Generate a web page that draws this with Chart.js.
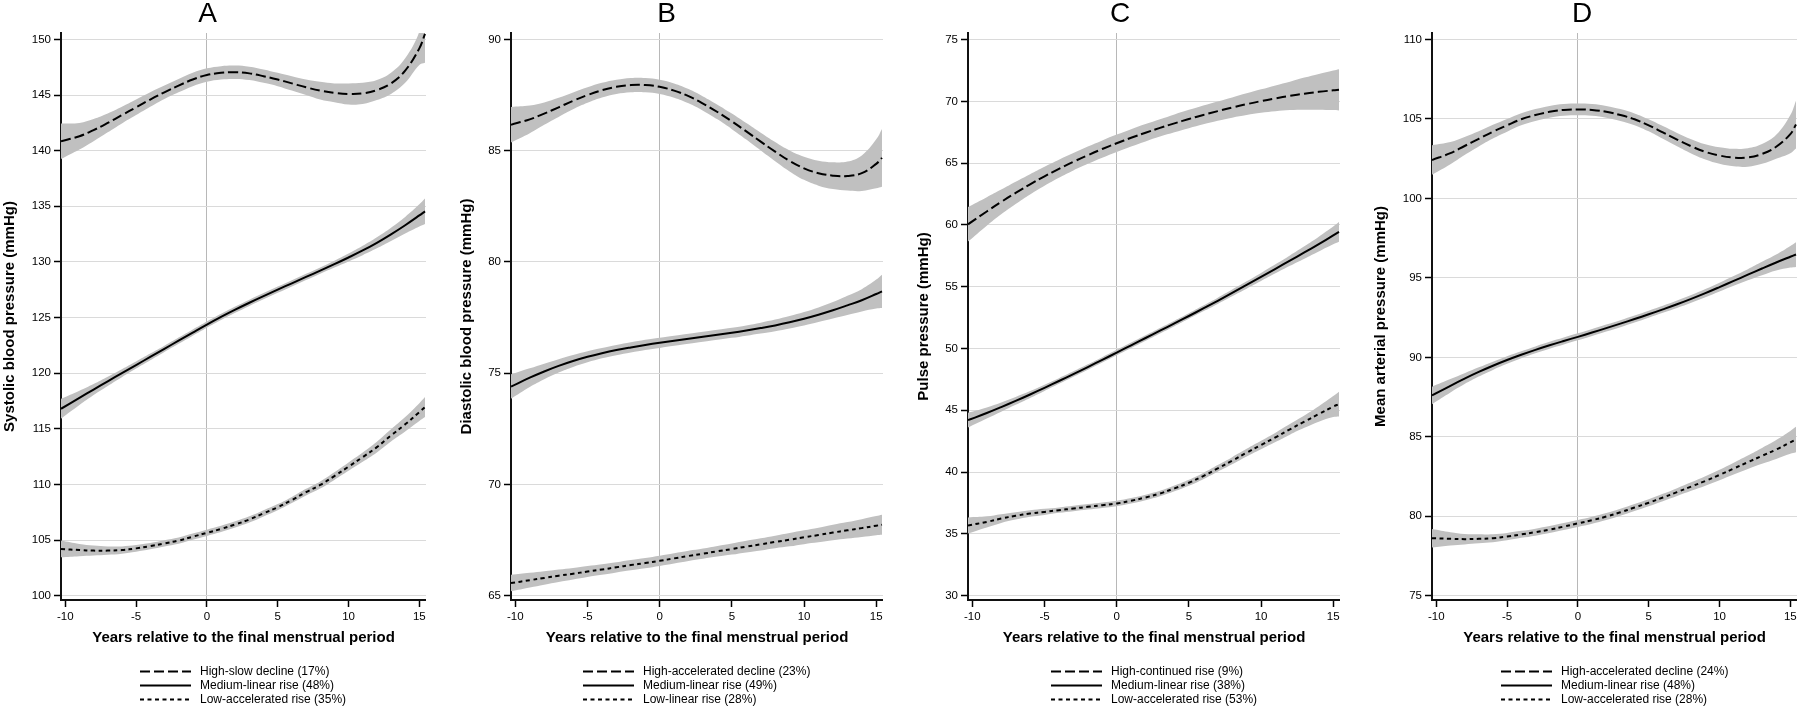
<!DOCTYPE html>
<html>
<head>
<meta charset="utf-8">
<script src="https://cdn.jsdelivr.net/npm/chart.js@4.4.1/dist/chart.umd.min.js"></script>
<style>
html, body { margin: 0; padding: 0; background: #fff; }
#wrap { position: relative; width: 1800px; height: 708px; overflow: hidden; background: #fff; }
#wrap canvas { position: absolute; top: 0; }
</style>
</head>
<body>
<div id="wrap">
  <canvas id="cA"></canvas>
  <canvas id="cB"></canvas>
  <canvas id="cC"></canvas>
  <canvas id="cD"></canvas>
</div>
<script>
// ---------- shared data ----------
const years = [-10.3,-9,-8,-7,-6,-5,-4,-3,-2,-1,0,1,2,3,4,5,6,7,8,9,10,11,12,13,14,15,15.4];
const xTicks = [-10,-5,0,5,10,15];
const xTitle = 'Years relative to the final menstrual period';

// ---------- Panel A: systolic ----------
const sbpTicks = [100,105,110,115,120,125,130,135,140,145,150];
const sbpLabels = ['High-slow decline (17%)','Medium-linear rise (48%)','Low-accelerated rise (35%)'];
const sbpHigh   = [140.85,141.3,141.85,142.5,143.2,143.9,144.6,145.25,145.85,146.4,146.8,147.0,147.05,146.95,146.7,146.4,146.05,145.7,145.4,145.2,145.1,145.15,145.45,146.05,147.2,149.2,150.5];
const sbpHighHi = [142.45,142.5,142.85,143.35,143.95,144.6,145.25,145.85,146.45,147.0,147.4,147.6,147.65,147.55,147.3,147.0,146.7,146.4,146.2,146.05,146.05,146.1,146.35,147.0,148.3,150.7,153.1];
const sbpHighLo = [139.25,140.1,140.85,141.65,142.45,143.2,143.95,144.65,145.25,145.8,146.2,146.4,146.45,146.35,146.1,145.8,145.4,145.0,144.6,144.35,144.15,144.2,144.55,145.1,146.1,147.7,147.9];
const sbpMed    = [116.8,117.78,118.53,119.27,120.0,120.73,121.46,122.19,122.92,123.65,124.37,125.06,125.71,126.33,126.93,127.51,128.08,128.65,129.22,129.8,130.4,131.03,131.72,132.48,133.3,134.18,134.55];
const sbpMedHi  = [117.7,118.43,119.03,119.69,120.36,121.05,121.76,122.47,123.2,123.93,124.65,125.34,125.99,126.61,127.21,127.79,128.36,128.93,129.5,130.1,130.75,131.45,132.22,133.08,134.05,135.18,135.7];
const sbpMedLo  = [115.9,117.13,118.03,118.85,119.64,120.41,121.16,121.91,122.64,123.37,124.09,124.78,125.43,126.05,126.65,127.23,127.8,128.37,128.94,129.5,130.05,130.61,131.22,131.88,132.55,133.18,133.4];
const sbpLow    = [104.2,104.1,104.05,104.05,104.1,104.25,104.45,104.7,104.95,105.3,105.65,106.0,106.4,106.85,107.4,107.95,108.6,109.3,109.95,110.75,111.6,112.45,113.35,114.4,115.4,116.5,116.95];
const sbpLowHi  = [104.95,104.65,104.5,104.43,104.43,104.55,104.73,104.98,105.23,105.58,105.93,106.28,106.68,107.13,107.68,108.23,108.88,109.6,110.27,111.1,111.98,112.87,113.83,114.95,116.05,117.3,117.85];
const sbpLowLo  = [103.45,103.55,103.6,103.67,103.77,103.95,104.17,104.42,104.67,105.02,105.37,105.72,106.12,106.57,107.12,107.67,108.32,109.0,109.63,110.4,111.22,112.03,112.87,113.85,114.75,115.7,116.05];

// ---------- Panel B: diastolic ----------
const dbpTicks = [65,70,75,80,85,90];
const dbpLabels = ['High-accelerated decline (23%)','Medium-linear rise (49%)','Low-linear rise (28%)'];
const dbpHigh   = [86.17,86.41,86.67,86.95,87.24,87.5,87.72,87.87,87.95,87.95,87.87,87.7,87.45,87.12,86.74,86.32,85.87,85.41,84.96,84.54,84.21,83.99,83.88,83.86,83.99,84.41,84.68];
const dbpHighHi = [86.97,87.03,87.17,87.38,87.62,87.85,88.05,88.19,88.27,88.27,88.19,88.02,87.77,87.44,87.07,86.67,86.24,85.81,85.39,85.01,84.73,84.55,84.48,84.51,84.79,85.51,85.98];
const dbpHighLo = [85.37,85.79,86.17,86.52,86.86,87.15,87.39,87.55,87.63,87.63,87.55,87.38,87.13,86.8,86.41,85.97,85.5,85.01,84.53,84.07,83.69,83.43,83.28,83.21,83.19,83.31,83.38];
const dbpMed    = [74.4,74.8,75.08,75.33,75.55,75.74,75.9,76.04,76.16,76.27,76.37,76.46,76.55,76.64,76.73,76.82,76.92,77.03,77.15,77.29,77.45,77.63,77.83,78.05,78.28,78.56,78.68];
const dbpMedHi  = [74.95,75.22,75.43,75.63,75.82,75.99,76.13,76.27,76.39,76.5,76.6,76.69,76.78,76.87,76.96,77.05,77.15,77.27,77.41,77.57,77.75,77.96,78.2,78.48,78.78,79.21,79.43];
const dbpMedLo  = [73.85,74.38,74.73,75.03,75.28,75.49,75.67,75.81,75.93,76.04,76.14,76.23,76.32,76.41,76.5,76.59,76.69,76.79,76.89,77.01,77.15,77.3,77.46,77.62,77.78,77.91,77.93];
const dbpLow    = [65.57,65.7,65.8,65.9,65.99,66.09,66.18,66.28,66.38,66.47,66.57,66.68,66.79,66.89,67.0,67.1,67.21,67.31,67.42,67.52,67.63,67.73,67.84,67.94,68.04,68.15,68.19];
const dbpLowHi  = [65.94,66.03,66.1,66.18,66.25,66.34,66.42,66.51,66.61,66.7,66.8,66.91,67.02,67.12,67.24,67.35,67.47,67.58,67.7,67.82,67.94,68.06,68.19,68.31,68.44,68.58,68.64];
const dbpLowLo  = [65.2,65.37,65.5,65.62,65.73,65.84,65.94,66.05,66.15,66.24,66.34,66.45,66.56,66.66,66.76,66.85,66.95,67.04,67.14,67.22,67.32,67.4,67.49,67.57,67.64,67.72,67.74];

// ---------- Panel C: pulse pressure ----------
const ppTicks = [30,35,40,45,50,55,60,65,70,75];
const ppLabels = ['High-continued rise (9%)','Medium-linear rise (38%)','Low-accelerated rise (53%)'];
const ppHigh   = [60.05,61.09,61.86,62.59,63.28,63.93,64.54,65.11,65.64,66.14,66.61,67.05,67.46,67.85,68.22,68.57,68.9,69.21,69.5,69.77,70.02,70.24,70.44,70.62,70.77,70.89,70.93];
const ppHighHi = [61.45,62.24,62.86,63.49,64.1,64.7,65.27,65.81,66.34,66.84,67.31,67.75,68.16,68.55,68.94,69.31,69.66,69.99,70.32,70.65,70.97,71.29,71.59,71.92,72.22,72.49,72.6];
const ppHighLo = [58.65,59.94,60.86,61.69,62.46,63.16,63.81,64.41,64.94,65.44,65.91,66.35,66.76,67.15,67.5,67.83,68.14,68.43,68.68,68.89,69.07,69.19,69.29,69.32,69.32,69.29,69.26];
const ppMed    = [44.2,44.78,45.26,45.76,46.28,46.82,47.37,47.93,48.5,49.08,49.67,50.26,50.85,51.44,52.03,52.63,53.24,53.86,54.5,55.14,55.79,56.45,57.11,57.77,58.45,59.15,59.43];
const ppMedHi  = [44.8,45.23,45.63,46.08,46.56,47.07,47.6,48.15,48.72,49.3,49.89,50.48,51.07,51.66,52.25,52.85,53.47,54.11,54.77,55.44,56.12,56.82,57.53,58.27,59.05,59.87,60.23];
const ppMedLo  = [43.6,44.33,44.89,45.44,46.0,46.57,47.14,47.71,48.28,48.86,49.45,50.04,50.63,51.22,51.81,52.41,53.01,53.61,54.23,54.84,55.46,56.08,56.69,57.27,57.85,58.43,58.63];
const ppLow    = [35.68,35.97,36.24,36.46,36.65,36.78,36.92,37.05,37.19,37.32,37.46,37.68,37.95,38.27,38.68,39.14,39.68,40.3,40.92,41.57,42.19,42.81,43.46,44.08,44.7,45.3,45.5];
const ppLowHi  = [36.33,36.42,36.59,36.76,36.92,37.03,37.14,37.27,37.41,37.54,37.68,37.9,38.17,38.49,38.91,39.38,39.93,40.57,41.21,41.88,42.53,43.19,43.89,44.58,45.32,46.15,46.5];
const ppLowLo  = [35.03,35.52,35.89,36.16,36.38,36.53,36.7,36.83,36.97,37.1,37.24,37.46,37.73,38.05,38.45,38.9,39.43,40.03,40.63,41.26,41.85,42.43,43.03,43.58,44.08,44.45,44.5];

// ---------- Panel D: mean arterial pressure ----------
const mapTicks = [75,80,85,90,95,100,105,110];
const mapLabels = ['High-accelerated decline (24%)','Medium-linear rise (48%)','Low-accelerated rise (28%)'];
const mapHigh   = [102.42,102.85,103.3,103.75,104.2,104.6,104.98,105.25,105.45,105.57,105.6,105.57,105.45,105.25,104.98,104.6,104.15,103.7,103.28,102.93,102.7,102.57,102.58,102.8,103.25,104.05,104.65];
const mapHighHi = [103.35,103.55,103.87,104.23,104.63,105.0,105.36,105.62,105.82,105.94,105.97,105.94,105.82,105.62,105.35,104.98,104.55,104.12,103.73,103.41,103.22,103.12,103.16,103.42,104.0,105.25,106.15];
const mapHighLo = [101.49,102.15,102.73,103.27,103.77,104.2,104.6,104.88,105.08,105.2,105.23,105.2,105.08,104.88,104.61,104.22,103.75,103.28,102.83,102.45,102.18,102.02,102.0,102.18,102.5,102.85,103.15];
const mapMed    = [87.6,88.21,88.66,89.08,89.47,89.83,90.16,90.47,90.76,91.03,91.29,91.56,91.84,92.12,92.41,92.71,93.02,93.34,93.68,94.04,94.42,94.81,95.2,95.59,95.97,96.33,96.47];
const mapMedHi  = [88.15,88.63,89.0,89.37,89.73,90.07,90.38,90.69,90.98,91.25,91.51,91.78,92.06,92.34,92.63,92.93,93.24,93.57,93.92,94.3,94.7,95.12,95.55,96.01,96.47,97.01,97.25];
const mapMedLo  = [87.05,87.79,88.32,88.79,89.21,89.59,89.94,90.25,90.54,90.81,91.07,91.34,91.62,91.9,92.19,92.49,92.8,93.11,93.44,93.78,94.14,94.5,94.85,95.17,95.47,95.65,95.69];
const mapLow    = [78.62,78.58,78.56,78.58,78.62,78.72,78.86,79.0,79.16,79.35,79.55,79.75,79.98,80.25,80.55,80.85,81.18,81.52,81.87,82.22,82.6,83.0,83.4,83.8,84.2,84.65,84.83];
const mapLowHi  = [79.2,79.0,78.89,78.86,78.87,78.95,79.08,79.22,79.38,79.57,79.77,79.97,80.2,80.47,80.77,81.07,81.41,81.77,82.14,82.52,82.93,83.37,83.82,84.3,84.8,85.37,85.63];
const mapLowLo  = [78.04,78.16,78.23,78.3,78.37,78.49,78.64,78.78,78.94,79.13,79.33,79.53,79.76,80.03,80.33,80.63,80.95,81.27,81.6,81.92,82.27,82.63,82.98,83.3,83.6,83.93,84.03];

// ---------- styling / layout (kept separate from data) ----------
const FONT = "'Liberation Sans', Arial, Helvetica, sans-serif";
Chart.defaults.font.family = FONT;
Chart.defaults.color = '#000';
const BAND = '#c0c0c0';
const DASHES = [[10, 4], [], [4, 3.5]];
const X_MIN = -10.3, X_MAX = 15.47;

const panels = [
  { id: 'cA', letter: 'A', yTitle: 'Systolic blood pressure (mmHg)', yTicks: sbpTicks, yMin: 99.61, yMax: 150.58,
    left: -11, width: 437, yWidth: 72, yTitlePad: 12.2,
    series: [
      { label: sbpLabels[0], mean: sbpHigh, hi: sbpHighHi, lo: sbpHighLo },
      { label: sbpLabels[1], mean: sbpMed,  hi: sbpMedHi,  lo: sbpMedLo },
      { label: sbpLabels[2], mean: sbpLow,  hi: sbpLowHi,  lo: sbpLowLo } ] },
  { id: 'cB', letter: 'B', yTitle: 'Diastolic blood pressure (mmHg)', yTicks: dbpTicks, yMin: 64.81, yMax: 90.29,
    left: 450, width: 433, yWidth: 61, yTitlePad: 8.2,
    series: [
      { label: dbpLabels[0], mean: dbpHigh, hi: dbpHighHi, lo: dbpHighLo },
      { label: dbpLabels[1], mean: dbpMed,  hi: dbpMedHi,  lo: dbpMedLo },
      { label: dbpLabels[2], mean: dbpLow,  hi: dbpLowHi,  lo: dbpLowLo } ] },
  { id: 'cC', letter: 'C', yTitle: 'Pulse pressure (mmHg)', yTicks: ppTicks, yMin: 29.65, yMax: 75.53,
    left: 900, width: 440, yWidth: 68, yTitlePad: 15.2,
    series: [
      { label: ppLabels[0], mean: ppHigh, hi: ppHighHi, lo: ppHighLo },
      { label: ppLabels[1], mean: ppMed,  hi: ppMedHi,  lo: ppMedLo },
      { label: ppLabels[2], mean: ppLow,  hi: ppLowHi,  lo: ppLowLo } ] },
  { id: 'cD', letter: 'D', yTitle: 'Mean arterial pressure (mmHg)', yTicks: mapTicks, yMin: 74.73, yMax: 110.41,
    left: 1367, width: 430, yWidth: 65, yTitlePad: 5.2,
    series: [
      { label: mapLabels[0], mean: mapHigh, hi: mapHighHi, lo: mapHighLo },
      { label: mapLabels[1], mean: mapMed,  hi: mapMedHi,  lo: mapMedLo },
      { label: mapLabels[2], mean: mapLow,  hi: mapLowHi,  lo: mapLowLo } ] }
];

function pts(ys) { return years.map((x, i) => ({ x: x, y: ys[i] })); }

// legend drawn as a stacked list under the x-axis title
const stackLegend = {
  id: 'stackLegend',
  afterDraw(chart, args, opts) {
    const { ctx, chartArea } = chart;
    const items = chart.data.datasets.filter(d => d.isLine);
    ctx.save();
    ctx.font = '12px ' + FONT;
    const lineLen = 51, gap = 9;
    const maxW = Math.max.apply(null, items.map(it => ctx.measureText(it.label).width));
    const total = lineLen + gap + maxW;
    const cx = (chartArea.left + chartArea.right) / 2;
    const x0 = Math.round(cx - total / 2);
    items.forEach((it, i) => {
      const y = Math.round(chartArea.bottom + opts.top + i * opts.spacing) + 0.5;
      ctx.beginPath();
      ctx.setLineDash(it.borderDash || []);
      ctx.lineWidth = 2;
      ctx.strokeStyle = '#000';
      ctx.moveTo(x0, y);
      ctx.lineTo(x0 + lineLen, y);
      ctx.stroke();
      ctx.setLineDash([]);
      ctx.fillStyle = '#000';
      ctx.textBaseline = 'middle';
      ctx.textAlign = 'left';
      ctx.fillText(it.label, x0 + lineLen + gap, y);
    });
    ctx.restore();
  }
};

panels.forEach(p => {
  const el = document.getElementById(p.id);
  el.width = p.width; el.height = 708;
  el.style.left = p.left + 'px';
  el.style.width = p.width + 'px';
  el.style.height = '708px';

  const lines = p.series.map((s, i) => ({
    label: s.label, isLine: true, data: pts(s.mean),
    borderColor: '#000', borderWidth: 2, borderDash: DASHES[i],
    pointRadius: 0, fill: false, tension: 0.4
  }));
  const bands = [];
  p.series.forEach(s => {
    bands.push({ label: s.label + ' (upper 95% CI)', data: pts(s.hi), borderWidth: 0, borderColor: 'rgba(0,0,0,0)',
      backgroundColor: BAND, pointRadius: 0, fill: '+1', tension: 0.4 });
    bands.push({ label: s.label + ' (lower 95% CI)', data: pts(s.lo), borderWidth: 0, borderColor: 'rgba(0,0,0,0)',
      backgroundColor: BAND, pointRadius: 0, fill: false, tension: 0.4 });
  });

  new Chart(el, {
    type: 'line',
    data: { datasets: lines.concat(bands) },
    options: {
      responsive: false, animation: false, events: [],
      layout: { padding: { left: 0, right: 0, top: 0, bottom: 58 } },
      plugins: {
        legend: { display: false },
        tooltip: { enabled: false },
        title: { display: true, text: p.letter, color: '#000',
                 font: { size: 28, weight: 'normal', lineHeight: 1 }, padding: { top: 0.5, bottom: 4.5 } },
        stackLegend: { top: 71, spacing: 14 }
      },
      scales: {
        x: {
          type: 'linear', min: X_MIN, max: X_MAX,
          afterBuildTicks: a => { a.ticks = xTicks.map(v => ({ value: v })); },
          afterFit: a => { a.height = 50; a.paddingLeft = 0; a.paddingRight = 0; },
          ticks: { color: '#000', font: { size: 11.5 }, padding: 3, maxRotation: 0, autoSkip: false,
                   callback: v => String(v) },
          grid: { color: c => (c.tick && c.tick.value === 0) ? '#b8b8b8' : 'rgba(0,0,0,0)',
                  lineWidth: 1, tickLength: 7, tickColor: '#000', tickWidth: 1.5 },
          border: { display: true, color: '#111', width: 2 },
          title: { display: true, text: xTitle, color: '#000',
                   font: { size: 15, weight: 'bold' }, padding: { top: 0, bottom: 3.2 } }
        },
        y: {
          type: 'linear', min: p.yMin, max: p.yMax,
          afterBuildTicks: a => { a.ticks = p.yTicks.map(v => ({ value: v })); },
          afterFit: a => { a.width = p.yWidth; a.paddingTop = 0; a.paddingBottom = 0; },
          ticks: { color: '#000', font: { size: 11.5 }, padding: 3, callback: v => String(v) },
          grid: { color: '#dadada', lineWidth: 1, tickLength: 7, tickColor: '#000', tickWidth: 1.5 },
          border: { display: true, color: '#111', width: 2 },
          title: { display: true, text: p.yTitle, color: '#000',
                   font: { size: 15, weight: 'bold' }, padding: { top: p.yTitlePad, bottom: 0 } }
        }
      }
    },
    plugins: [stackLegend]
  });
});
</script>
</body>
</html>
